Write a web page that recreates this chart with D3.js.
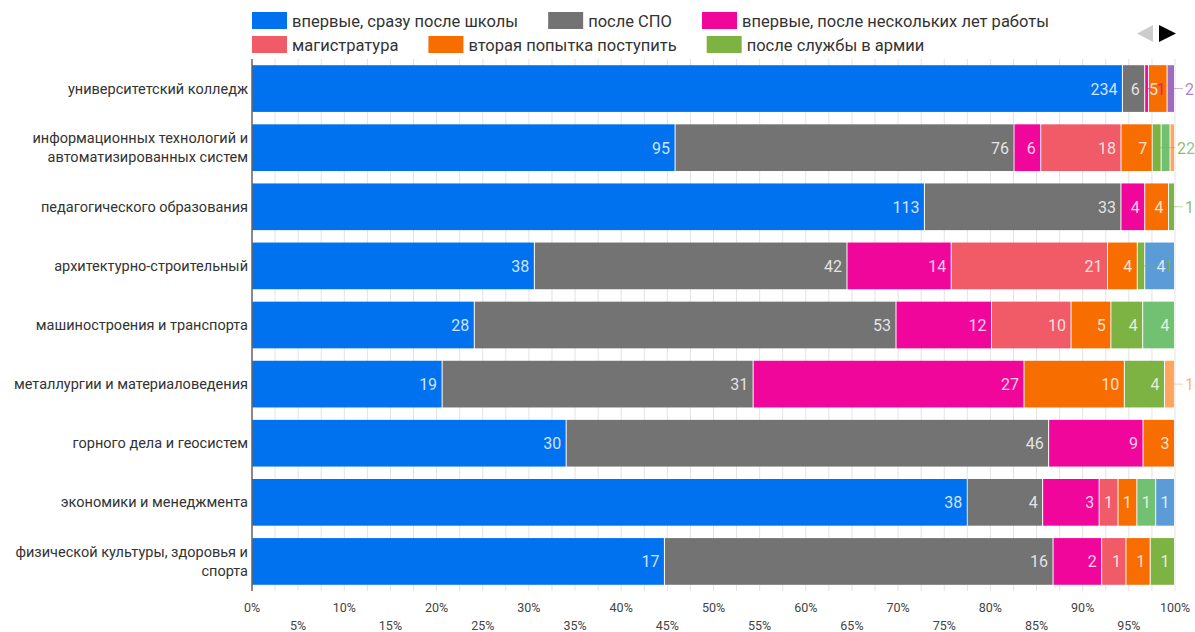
<!DOCTYPE html>
<html>
<head>
<meta charset="utf-8">
<script src="https://cdn.jsdelivr.net/npm/d3@7/dist/d3.min.js"></script>
<style>
  html, body { margin: 0; padding: 0; background: #fff; }
  svg { display: block; font-family: Roboto, "Noto Sans", sans-serif; }
</style>
</head>
<body>
<svg id="chart" width="1195" height="632"></svg>
<script>
// ---------- DATA ----------
const categories = [
  "университетский колледж",
  "информационных технологий и автоматизированных систем",
  "педагогического образования",
  "архитектурно-строительный",
  "машиностроения и транспорта",
  "металлургии и материаловедения",
  "горного дела и геосистем",
  "экономики и менеджмента",
  "физической культуры, здоровья и спорта"
];
const seriesNames = [
  "впервые, сразу после школы",
  "после СПО",
  "впервые, после нескольких лет работы",
  "магистратура",
  "вторая попытка поступить",
  "после службы в армии",
  "другое (7)",
  "другое (8)",
  "другое (9)",
  "другое (10)"
];
const seriesColors = ["#0072f0", "#737373", "#f0069a", "#f05b67", "#f76d00",
                      "#7cb342", "#72c172", "#5a9bd8", "#ffa65c", "#9e6bbf"];
const afterSchool   = [234, 95, 113, 38, 28, 19, 30, 38, 17];
const afterSPO      = [6, 76, 33, 42, 53, 31, 46, 4, 16];
const afterWork     = [1, 6, 4, 14, 12, 27, 9, 3, 2];
const masters       = [0, 18, 0, 21, 10, 0, 0, 1, 1];
const secondTry     = [5, 7, 4, 4, 5, 10, 3, 1, 1];
const afterArmy     = [0, 2, 1, 1, 4, 4, 0, 0, 1];
const other7        = [0, 2, 0, 0, 4, 0, 0, 1, 0];
const other8        = [0, 0, 0, 4, 0, 0, 0, 1, 0];
const other9        = [0, 1, 0, 0, 0, 1, 0, 0, 0];
const other10       = [2, 0, 0, 0, 0, 0, 0, 0, 0];
const seriesValues = [afterSchool, afterSPO, afterWork, masters, secondTry,
                      afterArmy, other7, other8, other9, other10];
const tickValues = d3.range(0, 1.0001, 0.05);
const legendVisibleCount = 6;

// ---------- BUILD ----------
(function () {
const svg = d3.select("#chart");
const pLeft = 252, pRight = 1175, pTop = 59, pBottom = 591;

const x = d3.scaleLinear().domain([0, 1]).range([pLeft, pRight]);
const y = d3.scaleBand().domain(categories).range([pTop, pBottom])
  .paddingInner(0.21).paddingOuter(0.105);

const rows = categories.map((c, i) => {
  const obj = { cat: c };
  seriesNames.forEach((s, j) => obj[s] = seriesValues[j][i]);
  return obj;
});
const totals = categories.map((c, i) => d3.sum(seriesValues, v => v[i]));
const stack = d3.stack().keys(seriesNames)
  .value((d, key) => d[key] / totals[categories.indexOf(d.cat)]);
const stacked = stack(rows);

// gridlines every 2.5%
const gridVals = d3.range(0, 1.0001, 0.025);
svg.append("g").selectAll("line").data(gridVals).join("line")
  .attr("x1", d => x(d)).attr("x2", d => x(d))
  .attr("y1", pTop).attr("y2", pBottom)
  .attr("stroke", "#e3e3e3").attr("stroke-width", 1);

// bars
const gBars = svg.append("g");
stacked.forEach((layer, j) => {
  gBars.append("g").attr("fill", seriesColors[j])
    .selectAll("rect").data(layer).join("rect")
    .attr("x", d => x(d[0]))
    .attr("y", d => y(d.data.cat))
    .attr("width", d => Math.max(0, x(d[1]) - x(d[0]) - (d[1] - d[0] > 0 ? 1 : 0)))
    .attr("height", y.bandwidth());
});

// value labels
const fsIn = 16, digitW = 9;
const gLab = svg.append("g").attr("font-size", fsIn);
categories.forEach((c, i) => {
  const segs = [];
  stacked.forEach((layer, j) => {
    const d = layer[i];
    const v = seriesValues[j][i];
    if (v) segs.push({ j, v, x0: x(d[0]), x1: x(d[1]) });
  });
  segs.forEach(s => { s.fits = (s.x1 - s.x0) >= String(s.v).length * digitW + 8; s.shift = 0; });
  const cy = y(c) + y.bandwidth() / 2;
  const outside = [];
  const guests = [];
  segs.forEach((s, k) => {
    if (s.fits) return;
    if (k < segs.length - 1 && segs[k + 1].fits) {
      segs[k + 1].shift = 4;
      guests.push({ s, host: segs[k + 1] });
    } else outside.push(s);
  });
  segs.forEach(s => {
    if (!s.fits) return;
    gLab.append("text").attr("x", s.x1 - 5.5 - s.shift).attr("y", cy + 6)
      .attr("text-anchor", "end").attr("fill", "#fff").attr("fill-opacity", 0.82)
      .text(String(s.v));
  });
  guests.forEach(g => {
    const txt = String(g.s.v);
    const nx = g.host.x1 - 2;
    gLab.append("line").attr("x1", (g.s.x0 + g.s.x1) / 2).attr("x2", nx - txt.length * digitW - 4)
      .attr("y1", cy).attr("y2", cy)
      .attr("stroke", seriesColors[g.s.j]).attr("stroke-opacity", 0.6);
    gLab.append("text").attr("x", nx).attr("y", cy + 6)
      .attr("text-anchor", "end").attr("fill", seriesColors[g.s.j]).attr("fill-opacity", 0.9)
      .text(txt);
  });
  const start = outside.length > 1 ? pRight + 2 : pRight + 10;
  outside.forEach((s, k) => {
    const lx = start + k * digitW;
    if (k === 0) {
      gLab.append("line").attr("x1", (s.x0 + s.x1) / 2).attr("x2", lx - 2)
        .attr("y1", cy).attr("y2", cy)
        .attr("stroke", seriesColors[s.j]).attr("stroke-opacity", 0.5);
    }
    gLab.append("text").attr("x", lx).attr("y", cy + 6)
      .attr("fill", seriesColors[s.j]).attr("fill-opacity", 0.85)
      .text(String(s.v));
  });
});

// vertical axis line
svg.append("line").attr("x1", pLeft).attr("x2", pLeft)
  .attr("y1", pTop).attr("y2", pBottom)
  .attr("stroke", "#666").attr("stroke-width", 1.5);

// category labels with wrapping
const gCat = svg.append("g").attr("font-size", 14.5).attr("fill", "#333")
  .attr("text-anchor", "end");
categories.forEach(c => {
  const words = c.split(" ");
  const lines = [];
  let line = [];
  const probe = gCat.append("text").attr("visibility", "hidden");
  words.forEach(wd => {
    const test = line.concat(wd).join(" ");
    probe.text(test);
    if (probe.node().getComputedTextLength() > 245 && line.length) {
      lines.push(line.join(" "));
      line = [wd];
    } else line.push(wd);
  });
  lines.push(line.join(" "));
  probe.remove();
  const t = gCat.append("text").attr("x", pLeft - 4);
  const cy = y(c) + y.bandwidth() / 2;
  const lh = 19.5;
  lines.forEach((ln, i) => {
    t.append("tspan").attr("x", pLeft - 4)
      .attr("y", cy + 5 - (lines.length - 1) * lh / 2 + i * lh)
      .text(ln);
  });
});

// x-axis tick labels, alternating two rows
const gX = svg.append("g").attr("font-size", 12.5).attr("fill", "#444")
  .attr("text-anchor", "middle");
tickValues.forEach((v, i) => {
  gX.append("text").attr("x", x(v)).attr("y", i % 2 === 0 ? 612 : 630)
    .text(d3.format(".0%")(v));
});

// legend (first page)
const gLeg = svg.append("g").attr("font-size", 16.5).attr("fill", "#333");
const legendRows = [[0, 1, 2], [3, 4, 5]];
legendRows.forEach((r, ri) => {
  let lx = pLeft;
  const ly = 12 + ri * 24;
  r.forEach(j => {
    if (j >= legendVisibleCount) return;
    gLeg.append("rect").attr("x", lx).attr("y", ly).attr("width", 35).attr("height", 17)
      .attr("fill", seriesColors[j]);
    const t = gLeg.append("text").attr("x", lx + 40).attr("y", ly + 14.5).text(seriesNames[j]);
    lx += 40 + t.node().getComputedTextLength() + 30;
  });
});

// pager arrows
svg.append("path").attr("d", d3.line()([[1153, 25], [1153, 42], [1137, 33.5]]) + "Z")
  .attr("fill", "#cccccc");
svg.append("path").attr("d", d3.line()([[1159, 25], [1159, 42], [1176, 33.5]]) + "Z")
  .attr("fill", "#000");
})();
</script>
</body>
</html>
